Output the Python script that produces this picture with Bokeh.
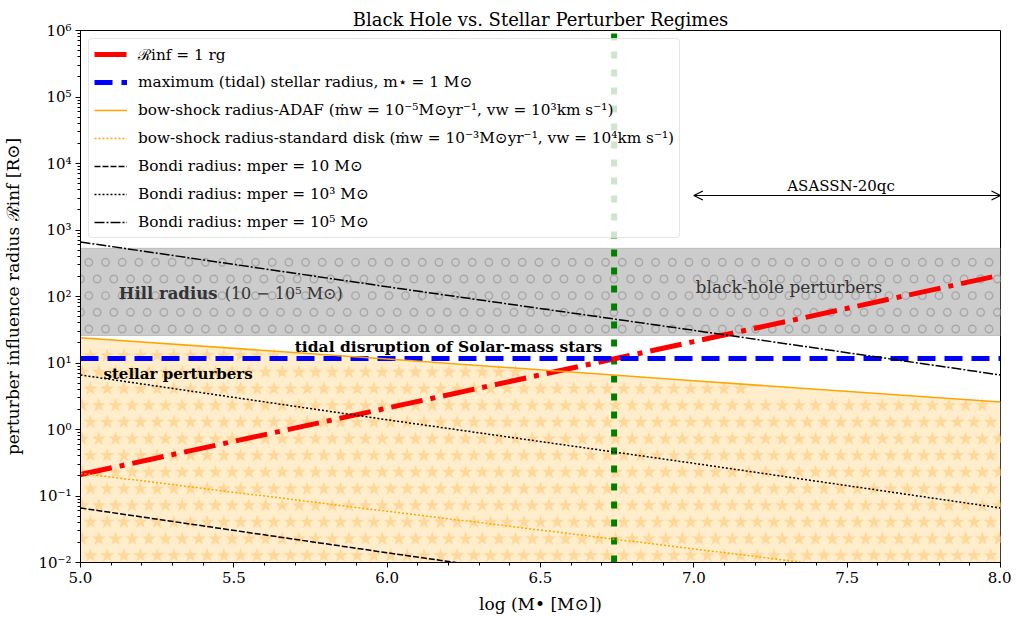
import numpy as np
from bokeh.plotting import figure
from bokeh.models import (FixedTicker, CustomJSTickFormatter, PrintfTickFormatter,
                          Label, Arrow, OpenHead)
from bokeh.embed import file_html
from bokeh.resources import INLINE

# ---------------- data ----------------
log_mbh = [5.0, 6.0, 7.0, 8.0]
r_grav = [0.21, 2.1, 21.0, 210.0]                 # R_inf = 1 r_g
r_tidal = [11.7, 11.7, 11.7, 11.7]                # maximum (tidal) stellar radius
r_bow_adaf = [24.0, 11.5, 5.4, 2.6]               # bow-shock radius ADAF
r_bow_disk = [0.22, 0.059, 0.016, 0.0043]         # bow-shock radius standard disk
r_bondi_10 = [0.066, 0.014, 0.0031, 0.00066]
r_bondi_1e3 = [6.6, 1.4, 0.31, 0.066]
r_bondi_1e5 = [660.0, 140.0, 31.0, 6.6]
hill_low, hill_high = 26.0, 530.0
asassn_logm = 6.74
asassn_arrow = [7.0, 8.0]
asassn_arrow_y = 3300.0

x_range = (5.0, 8.0)
y_range = (1e-2, 1e6)

labels = [
    "ℛinf = 1 rg",
    "maximum (tidal) stellar radius, m⋆ = 1 M⊙",
    "bow-shock radius-ADAF (ṁw = 10⁻⁵M⊙yr⁻¹, vw = 10³km s⁻¹)",
    "bow-shock radius-standard disk (ṁw = 10⁻³M⊙yr⁻¹, vw = 10⁴km s⁻¹)",
    "Bondi radius: mper = 10 M⊙",
    "Bondi radius: mper = 10³ M⊙",
    "Bondi radius: mper = 10⁵ M⊙",
]

SERIF = "DejaVu Serif"
FW, FH = 920, 532

p = figure(frame_width=FW, frame_height=FH, x_range=x_range, y_range=y_range,
           y_axis_type="log", output_backend="svg", toolbar_location=None,
           min_border_left=80, min_border_right=11, min_border_top=30,
           min_border_bottom=49, title="Black Hole vs. Stellar Perturber Regimes")
p.title.text_font = SERIF
p.title.text_font_size = "18px"
p.title.text_font_style = "normal"
p.title.text_color = "black"
p.title.align = "center"
p.title.offset = 0
p.title.standoff = 2
p.grid.visible = False
p.outline_line_color = "black"
p.outline_line_alpha = 1
p.outline_line_width = 1
p.background_fill_color = "white"

# helpers: convert frame pixels to data for the hatch patterns
def px2x(px):
    return x_range[0] + np.asarray(px) / FW * (x_range[1] - x_range[0])

def py2y(py):
    ly0, ly1 = np.log10(y_range[0]), np.log10(y_range[1])
    return 10 ** (ly0 + np.asarray(py) / FH * (ly1 - ly0))

def y2py(y):
    ly0, ly1 = np.log10(y_range[0]), np.log10(y_range[1])
    return (np.log10(y) - ly0) / (ly1 - ly0) * FH

# ---------------- stellar region (orange, star hatch) ----------------
xs_fill = log_mbh
p.varea(x=xs_fill, y1=[y_range[0]] * len(xs_fill), y2=r_bow_adaf,
        fill_color="#ffedcc", fill_alpha=1)

step = 16.67
sx, sy = [], []
k = 0
py = 7.0
while py < FH:
    off = 10.0 if k % 2 == 0 else 10.0 + step / 2
    px = off - step
    while px < FW + 4:
        if -4 < px < FW + 4:
            xd = float(px2x(px))
            lim = float(np.interp(xd, log_mbh, np.log10(r_bow_adaf)))
            if py < y2py(10 ** lim) - 4:
                sx.append(xd)
                sy.append(float(py2y(py)))
        px += step
    py += step
    k += 1
p.scatter(sx, sy, marker="star", size=15, fill_color="#ffd798",
          line_color=None)

# ---------------- Hill radius band (grey, ring hatch) ----------------
p.varea(x=[x_range[0], x_range[1]], y1=[hill_low, hill_low],
        y2=[hill_high, hill_high], fill_color="#cccccc", fill_alpha=1)
p.line([x_range[0], x_range[1]], [hill_high, hill_high], line_color="#bbbbbb", line_width=1)
p.line([x_range[0], x_range[1]], [hill_low, hill_low], line_color="#bbbbbb", line_width=1)
rx, ry = [], []
k = 0
py = 16.8
lo, hi = y2py(hill_low), y2py(hill_high)
while py < FH:
    if lo + 4 < py < hi - 4:
        off = 0.0 if k % 2 == 0 else step / 2
        px = off
        while px < FW + 4:
            rx.append(float(px2x(px)))
            ry.append(float(py2y(py)))
            px += step
    py += step
    k += 1
p.scatter(rx, ry, marker="circle", size=7.5, fill_color=None,
          line_color="#a8a8a8", line_width=1.4)

# ---------------- ASASSN-20qc mass (green) ----------------
p.segment(x0=[asassn_logm], y0=[y_range[0]], x1=[asassn_logm], y1=[y_range[1]],
          line_color="green", line_width=6, line_dash="7 11")

# ---------------- lines ----------------
p.line(log_mbh, r_grav, line_color="red", line_width=5, line_dash="32 8 5 8",
       legend_label=labels[0])
p.line(log_mbh, r_tidal, line_color="blue", line_width=5, line_dash="18 9",
       legend_label=labels[1])
p.line(log_mbh, r_bow_adaf, line_color="orange", line_width=1.5,
       legend_label=labels[2])
p.line(log_mbh, r_bow_disk, line_color="orange", line_width=1.5, line_dash="2 2",
       legend_label=labels[3])
p.line(log_mbh, r_bondi_10, line_color="black", line_width=1.5, line_dash="6 2",
       legend_label=labels[4])
p.line(log_mbh, r_bondi_1e3, line_color="black", line_width=1.5, line_dash="2 2",
       legend_label=labels[5])
p.line(log_mbh, r_bondi_1e5, line_color="black", line_width=1.5,
       line_dash="10 2 2 2", legend_label=labels[6])

# ---------------- annotations ----------------
p.add_layout(Arrow(start=OpenHead(size=9, line_width=1.2), end=OpenHead(size=9, line_width=1.2),
                   x_start=asassn_arrow[0], x_end=asassn_arrow[1],
                   y_start=asassn_arrow_y, y_end=asassn_arrow_y, line_width=1.2))
p.add_layout(Label(x=7.48, y=asassn_arrow_y, y_offset=1, text="ASASSN-20qc",
                   text_align="center", text_baseline="bottom", text_font=SERIF,
                   text_font_size="15px", text_color="black"))
p.add_layout(Label(x=5.125, y=112, text="Hill radius", text_align="left",
                   text_baseline="middle", text_font=SERIF, text_font_size="16.5px",
                   text_font_style="bold", text_color="#333333"))
p.add_layout(Label(x=5.47, y=112, text="(10 − 10⁵ M⊙)", text_align="left",
                   text_baseline="middle", text_font=SERIF, text_font_size="16px",
                   text_color="#333333"))
p.add_layout(Label(x=7.31, y=138, text="black-hole perturbers", text_align="center",
                   text_baseline="middle", text_font=SERIF, text_font_size="17px",
                   text_color="#333333"))
p.add_layout(Label(x=6.2, y=17.8, text="tidal disruption of Solar-mass stars",
                   text_align="center", text_baseline="middle", text_font=SERIF,
                   text_font_size="15.5px", text_font_style="bold", text_color="black"))
p.add_layout(Label(x=5.075, y=6.8, text="stellar perturbers", text_align="left",
                   text_baseline="middle", text_font=SERIF, text_font_size="15px",
                   text_font_style="bold", text_color="black"))

# ---------------- legend ----------------
lg = p.legend[0]
lg.location = "top_left"
lg.margin = 8
lg.padding = 5
lg.spacing = 8
lg.glyph_width = 33
lg.glyph_height = 20
lg.label_height = 20
lg.label_standoff = 11
lg.label_text_font = SERIF
lg.label_text_font_size = "15.3px"
lg.label_text_color = "black"
lg.label_text_baseline = "middle"
lg.background_fill_color = "white"
lg.background_fill_alpha = 0.8
lg.border_line_color = "#cccccc"
lg.border_line_width = 1
if "border_radius" in lg.properties():
    lg.border_radius = 4

# ---------------- axes ----------------
xa = p.xaxis[0]
xa.ticker = FixedTicker(ticks=[5.0, 5.5, 6.0, 6.5, 7.0, 7.5, 8.0],
                        minor_ticks=[round(5 + 0.1 * i, 1) for i in range(31)])
xa.formatter = PrintfTickFormatter(format="%.1f")
xa.axis_label = "log (M• [M⊙])"

ya = p.yaxis[0]
ya.ticker = FixedTicker(ticks=[10.0 ** e for e in range(-2, 7)],
                        minor_ticks=[m * 10.0 ** e for e in range(-2, 6) for m in range(2, 10)])
ya.formatter = CustomJSTickFormatter(code="""
const sup = {'-':'\u207b','0':'\u2070','1':'\u00b9','2':'\u00b2','3':'\u00b3','4':'\u2074',
             '5':'\u2075','6':'\u2076','7':'\u2077','8':'\u2078','9':'\u2079'};
const e = Math.round(Math.log10(tick));
return '10' + String(e).split('').map(c => sup[c]).join('');
""")
ya.axis_label = "perturber influence radius ℛinf [R⊙]"

for ax in (xa, ya):
    ax.axis_line_color = "black"
    ax.major_tick_line_color = "black"
    ax.minor_tick_line_color = "black"
    ax.major_tick_in = 0
    ax.major_tick_out = 5
    ax.minor_tick_in = 0
    ax.minor_tick_out = 3
    ax.major_label_text_font = SERIF
    ax.major_label_text_font_size = "15px"
    ax.major_label_text_color = "black"
    ax.major_label_standoff = 4
    ax.axis_label_text_font = SERIF
    ax.axis_label_text_font_size = "17px"
    ax.axis_label_text_font_style = "normal"
    ax.axis_label_text_color = "black"
ya.axis_label_standoff = 12
xa.axis_label_standoff = 8

open("out.html", "w").write(file_html(p, INLINE))
